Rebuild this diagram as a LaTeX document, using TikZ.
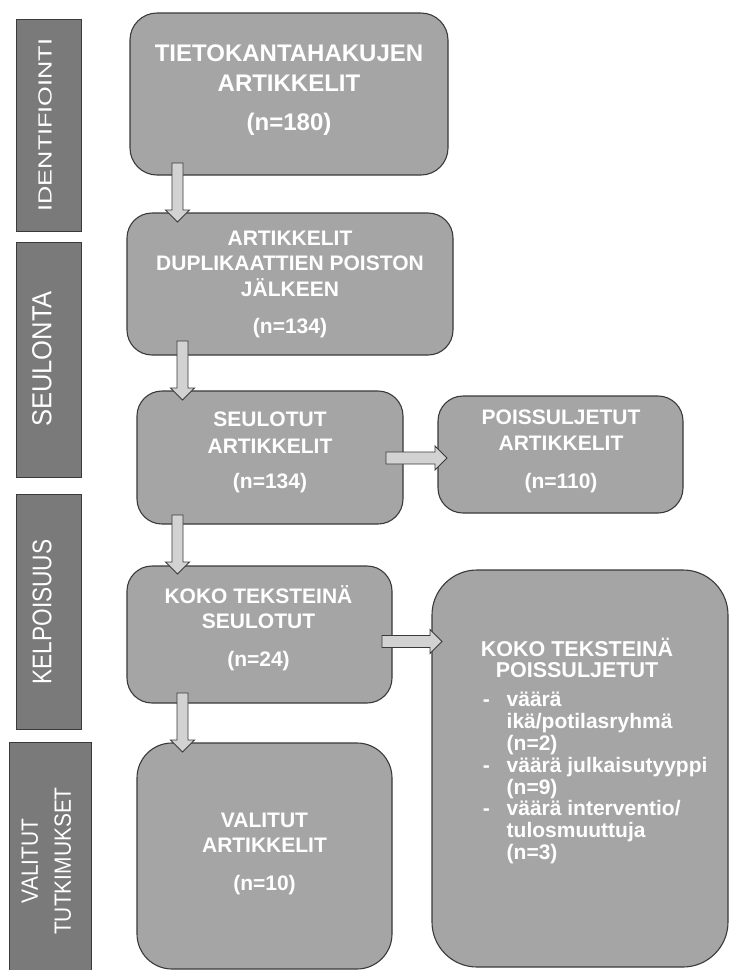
\documentclass[tikz,border=0pt]{standalone}
\usepackage{fontspec}
\setmainfont{Liberation Sans}
\usetikzlibrary{calc}
\definecolor{boxgray}{HTML}{A5A5A5}
\definecolor{bargray}{HTML}{7A7A7A}
\definecolor{edgegray}{HTML}{3A3A3A}
\definecolor{arrowgray}{HTML}{D2D2D2}
\newcommand\myvarrow[2]{\draw[blockarrow] let \p1=(#1), \p2=(#2) in
  (\x1-5.5pt,\y1) -- (\x1-5.5pt,\y2+12pt) -- (\x1-12pt,\y2+12pt) -- (\x1,\y2)
  -- (\x1+12pt,\y2+12pt) -- (\x1+5.5pt,\y2+12pt) -- (\x1+5.5pt,\y1) -- cycle;}
\newcommand\myharrow[2]{\draw[blockarrow] let \p1=(#1), \p2=(#2) in
  (\x1,\y1+6pt) -- (\x2-12pt,\y1+6pt) -- (\x2-12pt,\y1+12pt) -- (\x2,\y1)
  -- (\x2-12pt,\y1-12pt) -- (\x2-12pt,\y1-6pt) -- (\x1,\y1-6pt) -- cycle;}
\begin{document}
\begin{tikzpicture}[x=1pt,y=-1pt,
  box/.style={draw=edgegray, line width=1.1pt, fill=boxgray, inner sep=0pt, outer sep=0pt, anchor=north west},
  bar/.style={draw=edgegray, line width=0.9pt, fill=bargray, inner sep=0pt, outer sep=0pt, anchor=north west},
  boxtext/.style={text=white, inner sep=0pt, align=center},
  bartext/.style={text=white, inner sep=0pt, rotate=90},
  blockarrow/.style={draw=edgegray, line width=0.9pt, fill=arrowgray, line join=miter}]
\useasboundingbox (0,0) rectangle (729,970);
\clip (0,0) rectangle (729,970);
\fill[white] (0,0) rectangle (729,970);

% side bars
\node[bar, minimum width=65pt, minimum height=212pt] (s1) at (16,19) {};
\node[bar, minimum width=65pt, minimum height=235pt] (s2) at (16,242) {};
\node[bar, minimum width=65pt, minimum height=235pt] (s3) at (16,494) {};
\node[bar, minimum width=82pt, minimum height=240pt] (s4) at (9,742) {};
\node[bartext, font=\fontsize{19}{22}\selectfont] (s1t) at (45,125) {\scalebox{1.33}[1]{IDENTIFIOINTI}};
\node[bartext, font=\fontsize{27.5}{30}\selectfont] (s2t) at (42,359) {\scalebox{0.93}[1]{SEULONTA}};
\node[bartext, font=\fontsize{27}{30}\selectfont] (s3t) at (42,612) {\scalebox{0.84}[1]{KELPOISUUS}};
\node[bartext, align=center, font=\fontsize{23.5}{33}\selectfont] (s4t) at (46.5,861) {\scalebox{0.89}[1]{VALITUT}\\\scalebox{0.89}[1]{TUTKIMUKSET}};

% boxes
\node[box, rounded corners=27pt, minimum width=318pt, minimum height=162pt] (b1) at (130,13) {};
\node[box, rounded corners=25pt, minimum width=326pt, minimum height=142pt] (b2) at (127,213) {};
\node[box, rounded corners=25pt, minimum width=266pt, minimum height=133pt] (b3) at (137,391) {};
\node[box, rounded corners=25pt, minimum width=265pt, minimum height=137pt] (b4) at (127,566) {};
\node[box, rounded corners=35pt, minimum width=255pt, minimum height=226pt] (b5) at (137,743) {};
\node[box, rounded corners=25pt, minimum width=245pt, minimum height=117pt] (b6) at (438,396) {};
\node[box, rounded corners=45pt, minimum width=296pt, minimum height=397pt] (b7) at (432,570) {};

% box texts
\node[boxtext, font=\fontsize{24}{30}\selectfont\bfseries] (t1) at (289,90.3) {TIETOKANTAHAKUJEN\\ARTIKKELIT\\[9.6pt](n=180)};
\node[boxtext, font=\fontsize{21}{25.5}\selectfont\bfseries] (t2) at (290,284.2) {ARTIKKELIT\\DUPLIKAATTIEN POISTON\\JÄLKEEN\\[11.5pt](n=134)};
\node[boxtext, font=\fontsize{21}{27}\selectfont\bfseries] (t3) at (270,452.2) {SEULOTUT\\ARTIKKELIT\\[8pt](n=134)};
\node[boxtext, font=\fontsize{21}{25}\selectfont\bfseries] (t4) at (258.5,628.7) {KOKO TEKSTEINÄ\\SEULOTUT\\[13pt](n=24)};
\node[boxtext, font=\fontsize{21}{25}\selectfont\bfseries] (t5) at (264.5,853.7) {VALITUT\\ARTIKKELIT\\[13pt](n=10)};
\node[boxtext, font=\fontsize{21}{26}\selectfont\bfseries] (t6) at (561,451.2) {POISSULJETUT\\ARTIKKELIT\\[12pt](n=110)};
\node[boxtext, font=\fontsize{21.5}{21}\selectfont\bfseries] (t7a) at (577,657.9) {KOKO TEKSTEINÄ\\POISSULJETUT};
\node[boxtext, align=left, anchor=west, font=\fontsize{21}{21.86}\selectfont\bfseries] (t7b) at (482.7,778)
  {\makebox[23.8pt][l]{-}väärä\\\hspace*{23.8pt}ikä/potilasryhmä\\\hspace*{23.8pt}(n=2)\\
   \makebox[23.8pt][l]{-}väärä julkaisutyyppi\\\hspace*{23.8pt}(n=9)\\
   \makebox[23.8pt][l]{-}väärä interventio/\\\hspace*{23.8pt}tulosmuuttuja\\\hspace*{23.8pt}(n=3)};

% arrows
\coordinate (a1s) at (177.5,163); \coordinate (a1e) at (177.5,222);
\coordinate (a2s) at (182.5,341); \coordinate (a2e) at (182.5,400);
\coordinate (a3s) at (177.5,515); \coordinate (a3e) at (177.5,574);
\coordinate (a4s) at (182.5,693); \coordinate (a4e) at (182.5,752);
\coordinate (a5s) at (386,458);   \coordinate (a5e) at (447,458);
\coordinate (a6s) at (382,641.5); \coordinate (a6e) at (442,641.5);
\myvarrow{a1s}{a1e}
\myvarrow{a2s}{a2e}
\myvarrow{a3s}{a3e}
\myvarrow{a4s}{a4e}
\myharrow{a5s}{a5e}
\myharrow{a6s}{a6e}
\end{tikzpicture}
\end{document}
